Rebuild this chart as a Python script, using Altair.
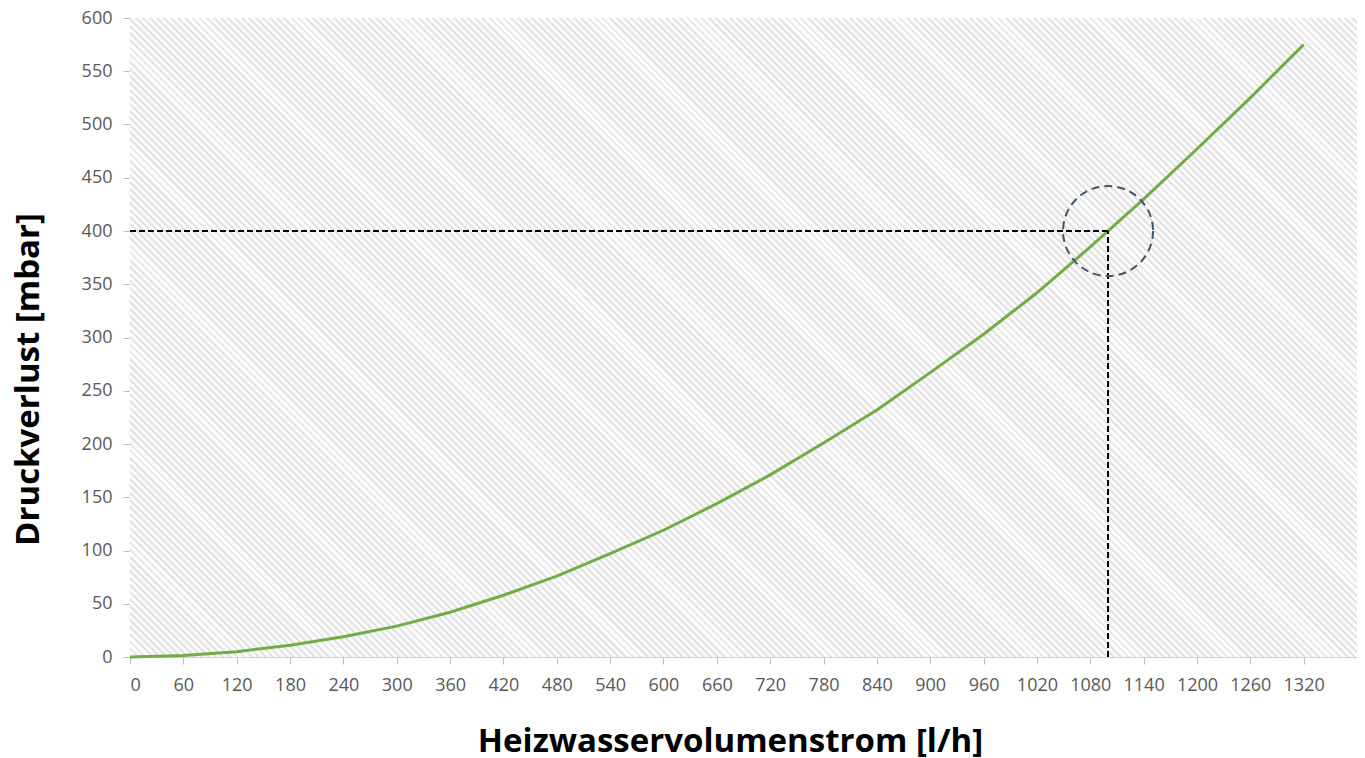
import altair as alt
import pandas as pd

# ---- data ----
flow = [0, 60, 120, 180, 240, 300, 360, 420, 480, 540, 600, 660, 720, 780,
        840, 900, 960, 1020, 1080, 1140, 1200, 1260, 1320]
loss = [0, 1.5, 5, 11, 19, 29, 42, 58, 76, 97, 119, 144, 171, 201,
        232, 267, 303, 342, 385, 430, 477, 525, 575]

mark_flow = 1100
mark_loss = 400

x_ticks = list(range(0, 1381, 30))
y_ticks = list(range(0, 601, 25))

W, H = 1227, 639

# ---- hatch background (style only) ----
k = (W + H) / (W ** 2 + H ** 2)
L = (W + H) / 2 ** 0.5
period = 5.0
frac = 0.4
light, dark = "#fbfbfb", "#e3e3e3"
stops = []
n = int(L / period) + 1
for i in range(n):
    t0 = i * period / L
    if t0 > 1:
        break
    t1 = min(1.0, t0 + frac * period / L)
    stops += [{"offset": round(t0, 6), "color": dark},
              {"offset": round(t1, 6), "color": dark},
              {"offset": round(t1, 6), "color": light},
              {"offset": round(min(1.0, (i + 1) * period / L), 6), "color": light}]
hatch = alt.LinearGradient(gradient="linear", x1=0, y1=1, x2=round(k * W, 5),
                           y2=round(1 - k * H, 5),
                           stops=[alt.GradientStop(offset=s["offset"], color=s["color"]) for s in stops])

df = pd.DataFrame({"flow": flow, "loss": loss})
xs = alt.Scale(domain=[0, 1380], nice=False, zero=False)
ys = alt.Scale(domain=[0, 600], nice=False)

xaxis = alt.Axis(
    values=x_ticks, format="d",
    labelExpr="datum.value % 60 == 0 && datum.value <= 1320 ? datum.label : ''",
    labelFont="Open Sans", labelFontSize=18, labelColor="#595959",
    labelPadding=12, tickSize=7, tickColor="#bfbfbf",
    tickOpacity={"condition": {"test": "datum.value % 60 == 0", "value": 1}, "value": 0},
    domainColor="#d0d0d0", grid=True, gridColor="#d9d9d9", gridWidth=1.2,
    title="Heizwasservolumenstrom [l/h]", titleFont="Open Sans",
    titleFontSize=33, titleFontWeight="bold", titleColor="#000000",
    titleX=600, titleY=94, titleBaseline="alphabetic",
)
yaxis = alt.Axis(
    values=y_ticks, format="d",
    labelExpr="datum.value % 50 == 0 ? datum.label : ''",
    labelFont="Open Sans", labelFontSize=18, labelColor="#595959",
    labelPadding=11, tickSize=7, tickColor="#bfbfbf",
    domainColor="#bfbfbf", grid=True, gridColor="#d9d9d9", gridWidth=1.2,
    gridOpacity={"condition": {"test": "datum.value % 50 == 0", "value": 1}, "value": 0},
    title="Druckverlust [mbar]", titleFont="Open Sans",
    titleFontSize=33, titleFontWeight="bold", titleColor="#000000",
    titleX=-92, titleY=361, titleBaseline="alphabetic", titleAngle=270,
)

bg = alt.Chart(pd.DataFrame({"a": [0]})).mark_rect(fill=hatch, strokeOpacity=0).encode(
    x=alt.value(0), x2=alt.value(W), y=alt.value(0), y2=alt.value(H))

line = alt.Chart(df).mark_line(color="#70ad47", strokeWidth=3).encode(
    x=alt.X("flow:Q", scale=xs, axis=xaxis),
    y=alt.Y("loss:Q", scale=ys, axis=yaxis),
)

hdf = pd.DataFrame({"x0": [0], "x1": [mark_flow], "y": [mark_loss]})
hline = alt.Chart(hdf).mark_rule(color="#000000", strokeWidth=2, strokeDash=[6, 3]).encode(
    x=alt.X("x0:Q", scale=xs), x2="x1:Q", y=alt.Y("y:Q", scale=ys))

vdf = pd.DataFrame({"x": [mark_flow], "y0": [0], "y1": [mark_loss]})
vline = alt.Chart(vdf).mark_rule(color="#000000", strokeWidth=2, strokeDash=[6, 3]).encode(
    x=alt.X("x:Q", scale=xs), y=alt.Y("y0:Q", scale=ys), y2="y1:Q")

cdf = pd.DataFrame({"x": [mark_flow], "y": [mark_loss]})
circle = alt.Chart(cdf).mark_point(
    shape="circle", filled=False, size=8100, color="#44546a",
    strokeWidth=2, strokeDash=[8, 5], opacity=1,
).encode(x=alt.X("x:Q", scale=xs), y=alt.Y("y:Q", scale=ys))

chart = alt.layer(bg, line, hline, vline, circle).properties(
    width=W, height=H,
    autosize=alt.AutoSizeParams(type="none"),
    padding={"left": 122, "top": 10, "right": 0, "bottom": 100},
    background="#ffffff",
).configure_view(strokeOpacity=0)

chart.save("out.html", embed_options={"renderer": "svg", "actions": False})
